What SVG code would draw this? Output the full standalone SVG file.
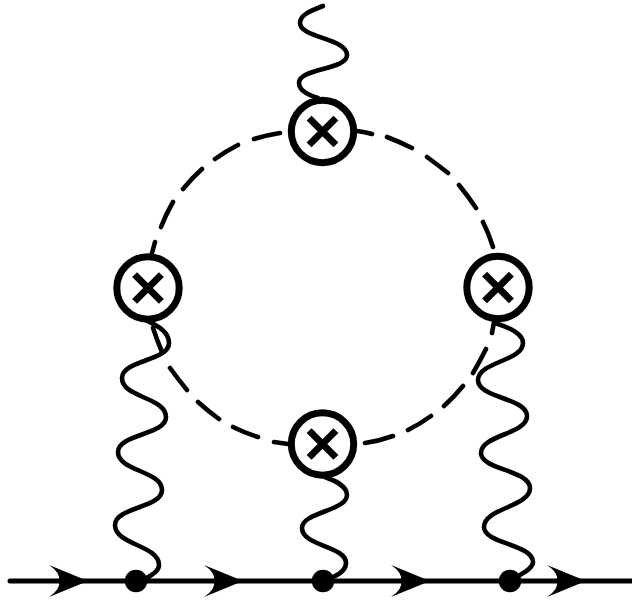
<svg xmlns="http://www.w3.org/2000/svg" width="632" height="602" viewBox="0 0 632 602">
<style>
.w{fill:none;stroke:#000;stroke-width:4.6;stroke-linecap:round;stroke-linejoin:round}
.d{fill:none;stroke:#000;stroke-width:4.6;stroke-linecap:round}
.l{fill:none;stroke:#000;stroke-width:5;stroke-linecap:round}
.c{fill:#fff;stroke:#000;stroke-width:7}
.x{fill:none;stroke:#000;stroke-width:7}
.v{fill:#000}
</style>
<defs>
<path id="a" d="M3,0L-36,-16Q-24,-8 -26,0Q-24,8 -36,16Z" fill="#000"/>
<g id="o"><circle class="c" r="31.2"/><path class="x" d="M-13.4,-13.4L13.4,13.4M-13.4,13.4L13.4,-13.4"/></g>
</defs>
<g id="connectors">
<path class="l" d="M10,581H632"/>
<use href="#a" x="85" y="581"/><use href="#a" x="240" y="581"/><use href="#a" x="427" y="581"/><use href="#a" x="583" y="581"/>
<path class="d" d="M152,253L155,242M161,227Q166,214 173,202M183,189Q192,178 202,169M215,159Q226,151 238,145M254,139Q267,135 280,133M357,131Q365,132 372,134M387,137Q400,142 412,148M427,157Q438,165 448,173M459,185Q468,196 476,208M483,222Q489,234 493,247M494,322L492,333M486,349Q480,361 473,373M463,386Q454,397 444,406M431,416Q420,424 408,430M393,436Q379,441 365,443M288,444Q281,443 274,442M258,437Q245,433 233,427M219,419Q208,411 198,402M187,390Q178,379 170,368M162,352Q157,340 153,328"/>
<path class="w" d="M323,6C310,11 300,15 300,23C300,38 347,38 347,55C347,70 299,68 299,83C299,90 308,95 318,98"/>
<path class="w" d="M142,318C155,325 169,330 169,343C169,361 122,360 122,378C122,398 166,397 166,417C166,435 118,434 118,452C118,471 162,471 162,490C162,508 115,507 115,525C115,545 159,545 159,565C159,571 153,574 147,578"/>
<path class="w" d="M325,477C336,481 347,486 347,495C347,511 302,512 302,528C302,546 346,546 346,563C346,569 340,574 333,577"/>
<path class="w" d="M495,323C508,327 523,333 523,343C523,361 478,362 478,380C478,398 527,398 527,416C527,434 481,435 481,453C481,470 530,470 530,488C530,507 484,508 484,527C484,544 533,544 533,562C533,567 527,571 520,575"/>
</g>
<g id="node-top"><use href="#o" x="322.5" y="131.5"/></g>
<g id="node-left"><use href="#o" x="148" y="288"/></g>
<g id="node-right"><use href="#o" x="498" y="287.5"/></g>
<g id="node-bottom"><use href="#o" x="322.5" y="444"/></g>
<g id="vertex-1"><circle class="v" cx="136" cy="581" r="11.3"/></g>
<g id="vertex-2"><circle class="v" cx="323" cy="581" r="11.3"/></g>
<g id="vertex-3"><circle class="v" cx="510" cy="581" r="11.3"/></g>
</svg>
